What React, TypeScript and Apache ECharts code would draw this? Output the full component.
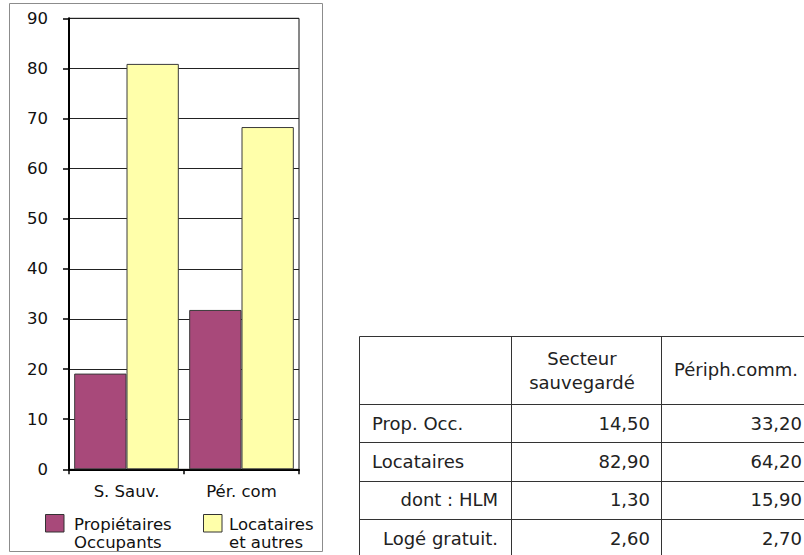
import React, { useEffect, useRef } from "react";
import * as echarts from "echarts";

// ---- Chart data ----
const categories = ["S. Sauv.", "Pér. com"];
const seriesNames = ["Propiétaires\nOccupants", "Locataires\net autres"];
const proprietaires = [19.1, 31.8];
const locataires = [80.9, 68.3];
const seriesColors = ["#A8497A", "#FFFFAA"];
const yMin = 0;
const yMax = 90;
const yInterval = 10;

// ---- Table data ----
const tableColumnHeaders = ["Secteur\nsauvegardé", "Périph.comm."];
const tableRowLabels = ["Prop. Occ.", "Locataires", "dont : HLM", "Logé gratuit."];
const tableRowIndented = [false, false, true, true];
const secteurValues = ["14,50", "82,90", "1,30", "2,60"];
const periphValues = ["33,20", "64,20", "15,90", "2,70"];

const FONT = "DejaVu Sans";

function buildTableGraphics(): any[] {
  const els: any[] = [];
  const left = 359.5;
  const top = 336.5;
  const right = 804;
  const bottom = 556;
  const headerBottom = 404;
  const rowH = 38.33;
  const colLines = [359.5, 511.5, 661.5];
  const lineStyle = { stroke: "#333", lineWidth: 1 };
  // horizontal lines
  const hs = [top];
  for (let i = 0; i < tableRowLabels.length; i++) hs.push(Math.round(headerBottom + i * rowH) + 0.5);
  hs.forEach((y) =>
    els.push({ type: "line", shape: { x1: left, y1: y, x2: right, y2: y }, style: lineStyle, silent: true })
  );
  colLines.forEach((x) =>
    els.push({ type: "line", shape: { x1: x, y1: top, x2: x, y2: bottom }, style: lineStyle, silent: true })
  );
  const txt = { fill: "#222", fontFamily: FONT, fontSize: 18 };
  // headers
  els.push({
    type: "text",
    x: 582,
    y: 370,
    style: { ...txt, text: tableColumnHeaders[0], align: "center", verticalAlign: "middle", lineHeight: 24 },
    silent: true,
  });
  els.push({
    type: "text",
    x: 736,
    y: 369,
    style: { ...txt, text: tableColumnHeaders[1], align: "center", verticalAlign: "middle" },
    silent: true,
  });
  tableRowLabels.forEach((label, i) => {
    const cy = headerBottom + (i + 0.5) * rowH;
    els.push({
      type: "text",
      x: tableRowIndented[i] ? 498 : 372,
      y: cy,
      style: { ...txt, text: label, align: tableRowIndented[i] ? "right" : "left", verticalAlign: "middle" },
      silent: true,
    });
    els.push({
      type: "text",
      x: 650,
      y: cy,
      style: { ...txt, text: secteurValues[i], align: "right", verticalAlign: "middle" },
      silent: true,
    });
    els.push({
      type: "text",
      x: 802,
      y: cy,
      style: { ...txt, text: periphValues[i], align: "right", verticalAlign: "middle" },
      silent: true,
    });
  });
  return els;
}

function buildLegendGraphics(): any[] {
  const els: any[] = [];
  const iconX = [45, 203];
  const textX = [74, 229];
  seriesNames.forEach((name, i) => {
    els.push({
      type: "rect",
      shape: { x: iconX[i] + 0.5, y: 514.5, width: 18.5, height: 17.5 },
      style: { fill: seriesColors[i], stroke: "#333", lineWidth: 1 },
      silent: true,
    });
    els.push({
      type: "text",
      x: textX[i],
      y: 533.2,
      style: {
        text: name,
        fill: "#111",
        fontFamily: FONT,
        fontSize: 16.5,
        lineHeight: 18.3,
        align: "left",
        verticalAlign: "middle",
      },
      silent: true,
    });
  });
  return els;
}

export default function App() {
  const ref = useRef<HTMLDivElement>(null);
  useEffect(() => {
    if (!ref.current) return;
    const chart = echarts.init(ref.current, undefined, { renderer: "svg" });
    const option: any = {
      animation: false,
      backgroundColor: "#ffffff",
      grid: {
        left: 69,
        right: 505,
        top: 18.3,
        bottom: 85.7,
        show: true,
        borderColor: "#111",
        borderWidth: 1,
        backgroundColor: "transparent",
        containLabel: false,
      },
      xAxis: {
        type: "category",
        data: categories,
        axisLine: { show: true, lineStyle: { color: "#000", width: 2 } },
        axisTick: { show: true, length: 5, lineStyle: { color: "#000", width: 1.5 } },
        axisLabel: { margin: 14, color: "#111", fontFamily: FONT, fontSize: 16.5 },
        splitLine: { show: false },
      },
      yAxis: {
        type: "value",
        min: yMin,
        max: yMax,
        interval: yInterval,
        axisLine: { show: true, lineStyle: { color: "#000", width: 2 } },
        axisTick: { show: true, length: 6, lineStyle: { color: "#000", width: 1.5 } },
        axisLabel: { margin: 21, color: "#111", fontFamily: FONT, fontSize: 16.5 },
        splitLine: { show: true, lineStyle: { color: "#222", width: 1 } },
      },
      series: [
        {
          name: seriesNames[0],
          type: "bar",
          data: proprietaires,
          barGap: "0%",
          barCategoryGap: "9%",
          itemStyle: { color: seriesColors[0], borderColor: "#3a3a3a", borderWidth: 1 },
        },
        {
          name: seriesNames[1],
          type: "bar",
          data: locataires,
          barGap: "0%",
          barCategoryGap: "9%",
          itemStyle: { color: seriesColors[1], borderColor: "#3a3a3a", borderWidth: 1 },
        },
      ],
      graphic: [
        {
          type: "rect",
          shape: { x: 9.5, y: 3.5, width: 313, height: 548 },
          style: { fill: "none", stroke: "#8c8c8c", lineWidth: 1 },
          silent: true,
          z: -1,
        },
        ...buildLegendGraphics(),
        ...buildTableGraphics(),
      ],
    };
    chart.setOption(option);
    return () => chart.dispose();
  }, []);
  return (
    <div
      ref={ref}
      style={{ position: "absolute", left: 0, top: 0, width: 804, height: 555, background: "#fff" }}
    />
  );
}
